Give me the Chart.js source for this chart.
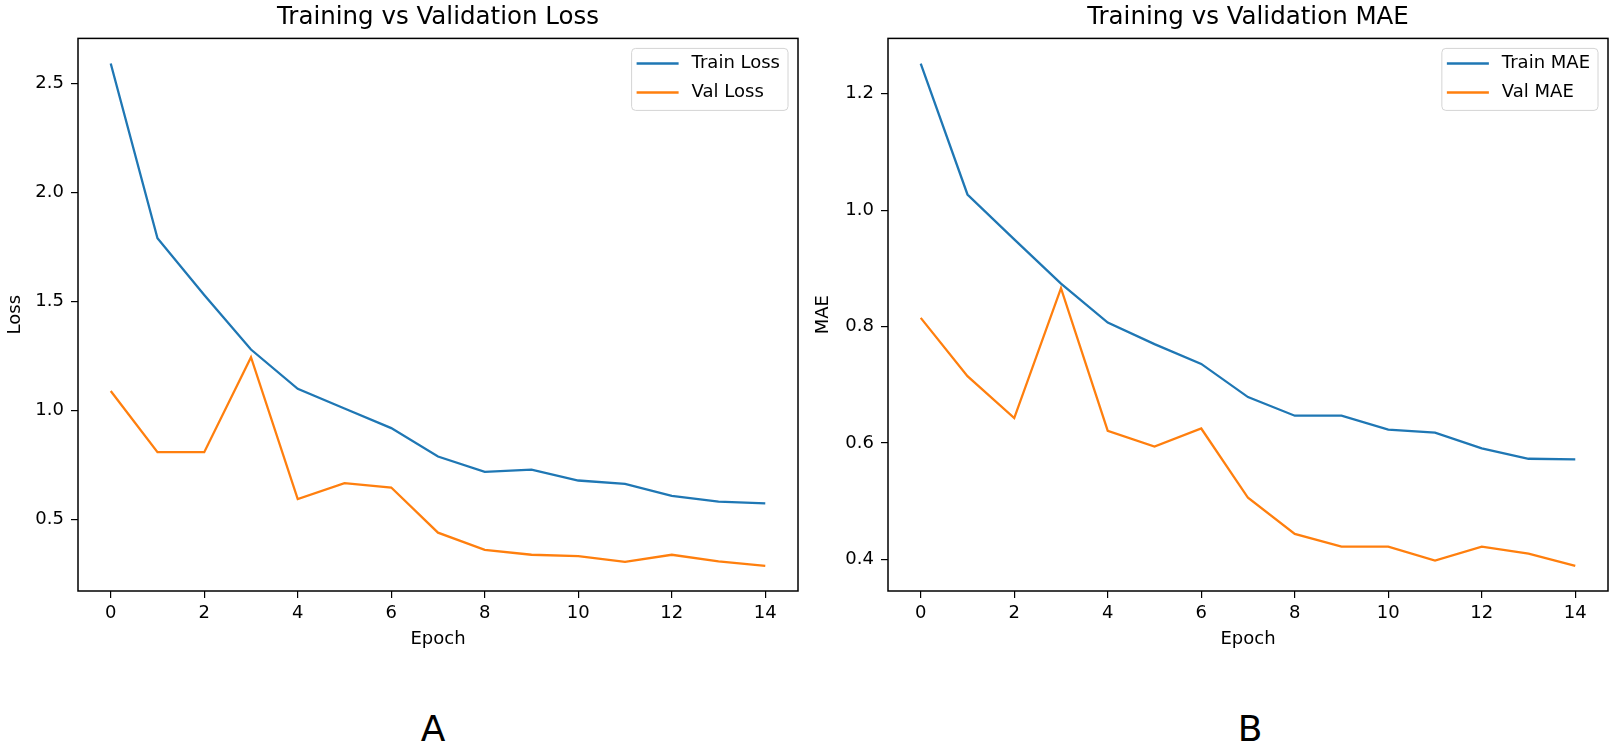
<!DOCTYPE html>
<html lang="en">
<head>
<meta charset="UTF-8">
<title>Training vs Validation Loss / MAE</title>
<script src="https://cdn.jsdelivr.net/npm/chart.js@4.4.1/dist/chart.umd.min.js"></script>
<style>
  body { margin: 0; background: #fff; width: 1616px; height: 744px; position: relative; overflow: hidden; }
  canvas { position: absolute; top: 0; }
  #lossChart { left: 0; }
  #maeChart { left: 808px; }
  .panel-label {
    position: absolute; top: 711px; width: 200px; text-align: center;
    font-family: 'DejaVu Sans', sans-serif; font-size: 36px; line-height: 1; color: #000;
  }
</style>
</head>
<body>
<canvas id="lossChart" width="808" height="660"></canvas>
<canvas id="maeChart" width="808" height="660"></canvas>
<div class="panel-label" style="left:333px">A</div>
<div class="panel-label" style="left:1150px">B</div>

<script>
// values
const epochs = [0, 1, 2, 3, 4, 5, 6, 7, 8, 9, 10, 11, 12, 13, 14];
const trainLoss = [2.59, 1.79, 1.53, 1.28, 1.10, 1.01, 0.92, 0.79, 0.72, 0.73, 0.68, 0.665, 0.61, 0.583, 0.575];
const valLoss = [1.09, 0.81, 0.81, 1.245, 0.595, 0.668, 0.648, 0.441, 0.362, 0.340, 0.334, 0.307, 0.340, 0.310, 0.289];
const trainMae = [1.252, 1.027, 0.950, 0.874, 0.807, 0.770, 0.736, 0.679, 0.647, 0.647, 0.623, 0.618, 0.591, 0.573, 0.572];
const valMae = [0.815, 0.715, 0.643, 0.866, 0.621, 0.594, 0.625, 0.506, 0.444, 0.422, 0.422, 0.398, 0.422, 0.410, 0.389];

const epochTicks = [0, 2, 4, 6, 8, 10, 12, 14];
const lossTicks = [0.5, 1.0, 1.5, 2.0, 2.5];
const maeTicks = [0.4, 0.6, 0.8, 1.0, 1.2];

const BLUE = '#1f77b4';
const ORANGE = '#ff7f0e';
const FONT = "'DejaVu Sans', sans-serif";

Chart.defaults.color = '#000';
Chart.defaults.font.family = FONT;

// axes frame like matplotlib spines
const spines = {
    id: 'spines',
    afterDatasetsDraw(chart) {
        const { ctx, chartArea: a } = chart;
        ctx.save();
        ctx.strokeStyle = '#000';
        ctx.lineWidth = 1.5;
        ctx.strokeRect(a.left, a.top, a.right - a.left, a.bottom - a.top);
        ctx.restore();
    }
};

// legend box in the upper right corner of the plot area
const insideLegend = {
    id: 'insideLegend',
    afterDraw(chart) {
        const { ctx, chartArea: a } = chart;
        const sets = chart.data.datasets;
        ctx.save();
        ctx.font = '18px ' + FONT;
        const textW = Math.max(...sets.map(d => ctx.measureText(d.label).width));
        const w = 5 + 42 + 13 + textW + 8;
        const h = 62;
        const x = a.right - 10 - w;
        const y = a.top + 10;
        ctx.beginPath();
        ctx.roundRect(x, y, w, h, 4);
        ctx.fillStyle = 'rgba(255,255,255,0.8)';
        ctx.fill();
        ctx.strokeStyle = '#d4d4d4';
        ctx.lineWidth = 1;
        ctx.stroke();
        sets.forEach((d, i) => {
            const cy = y + 15 + i * 29;
            ctx.strokeStyle = d.borderColor;
            ctx.lineWidth = 2.5;
            ctx.beginPath();
            ctx.moveTo(x + 5, cy);
            ctx.lineTo(x + 47, cy);
            ctx.stroke();
            ctx.fillStyle = '#000';
            ctx.textBaseline = 'middle';
            ctx.fillText(d.label, x + 60, cy);
        });
        ctx.restore();
    }
};

function points(values) {
    return epochs.map((e, i) => ({ x: e, y: values[i] }));
}

// matplotlib-style 5% autoscale margin
function limits(arrays) {
    const all = [].concat(...arrays);
    const lo = Math.min(...all), hi = Math.max(...all);
    const m = (hi - lo) * 0.05;
    return { min: lo - m, max: hi + m };
}

function makeChart(id, title, yLabel, series, yTicks, yAxisWidth, padRight) {
    const lim = limits(series.map(s => s.data));
    const xm = (epochs[epochs.length - 1] - epochs[0]) * 0.05;
    const tickGrid = {
        display: true, drawOnChartArea: false, drawTicks: true,
        tickLength: 7, color: '#000', lineWidth: 1.2
    };

    return new Chart(document.getElementById(id), {
        type: 'line',
        data: {
            datasets: series.map(s => ({
                label: s.label,
                data: points(s.data),
                borderColor: s.color,
                backgroundColor: s.color,
                borderWidth: 2.3,
                pointRadius: 0,
                tension: 0
            }))
        },
        options: {
            responsive: false,
            animation: false,
            layout: { padding: { left: 0, right: padRight, top: 0, bottom: 0 } },
            plugins: {
                legend: { display: false },
                tooltip: { enabled: false },
                title: {
                    display: true, text: title, fullSize: false,
                    font: { size: 24.5, weight: 'normal' }, color: '#000',
                    padding: { top: 3, bottom: 6 }
                }
            },
            scales: {
                x: {
                    type: 'linear',
                    min: epochs[0] - xm,
                    max: epochs[epochs.length - 1] + xm,
                    afterBuildTicks: scale => { scale.ticks = epochTicks.map(v => ({ value: v })); },
                    afterFit: scale => { scale.height = 69; },
                    ticks: { font: { size: 18 }, padding: 5, maxRotation: 0 },
                    grid: tickGrid,
                    border: { display: false },
                    title: { display: true, text: 'Epoch', font: { size: 18 }, padding: { top: 4, bottom: 10 } }
                },
                y: {
                    type: 'linear',
                    min: lim.min,
                    max: lim.max,
                    afterBuildTicks: scale => { scale.ticks = yTicks.map(v => ({ value: v })); },
                    afterFit: scale => { scale.width = yAxisWidth; },
                    ticks: { font: { size: 18 }, padding: 7, callback: v => v.toFixed(1) },
                    grid: tickGrid,
                    border: { display: false },
                    title: { display: true, text: yLabel, font: { size: 18 }, padding: { top: 5, bottom: 4 } }
                }
            }
        },
        plugins: [spines, insideLegend]
    });
}

makeChart('lossChart', 'Training vs Validation Loss', 'Loss', [
    { label: 'Train Loss', data: trainLoss, color: BLUE },
    { label: 'Val Loss', data: valLoss, color: ORANGE }
], lossTicks, 78, 10);

makeChart('maeChart', 'Training vs Validation MAE', 'MAE', [
    { label: 'Train MAE', data: trainMae, color: BLUE },
    { label: 'Val MAE', data: valMae, color: ORANGE }
], maeTicks, 80, 8);
</script>
</body>
</html>
